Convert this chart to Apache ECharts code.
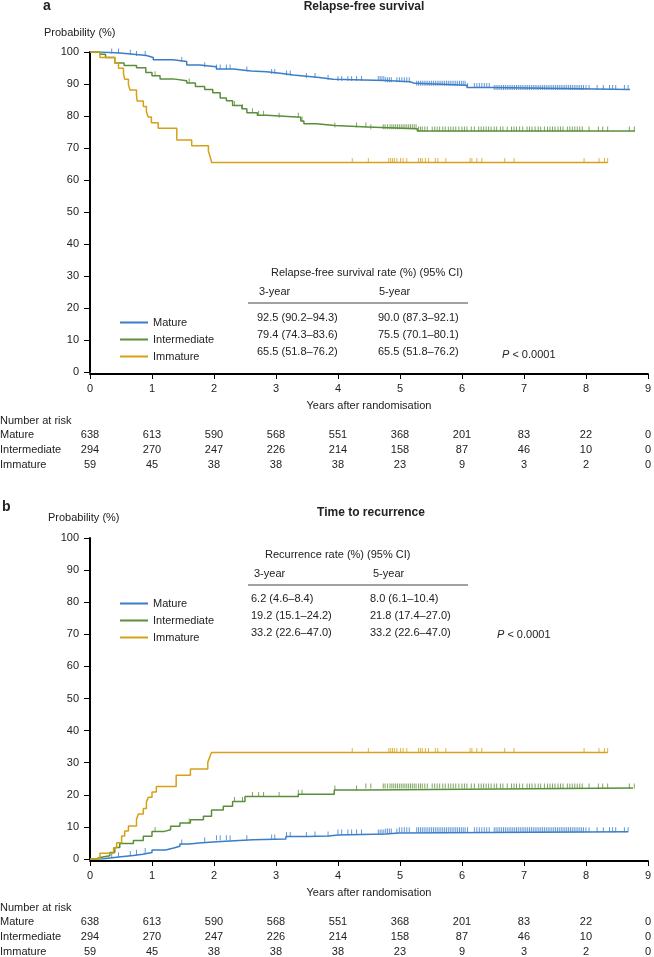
<!DOCTYPE html>
<html>
<head>
<meta charset="utf-8">
<title>Relapse-free survival / Time to recurrence</title>
<script src="https://cdn.jsdelivr.net/npm/echarts@6/dist/echarts.min.js"></script>
<style>
  html, body { margin: 0; padding: 0; background: #fff; }
  #chart { width: 654px; height: 957px; }
</style>
</head>
<body>
<div id="chart"></div>
<script>
var FONT = '"Liberation Sans", Arial, sans-serif'
var groups = ['Mature', 'Intermediate', 'Immature']
var colors = ['#3b7dc8', '#5a8e3a', '#d6a118']

// number at risk, one value per year tick 0..9
var riskMature = [638, 613, 590, 568, 551, 368, 201, 83, 22, 0]
var riskIntermediate = [294, 270, 247, 226, 214, 158, 87, 46, 10, 0]
var riskImmature = [59, 45, 38, 38, 38, 23, 9, 3, 2, 0]

// rate tables
var rfsRate3y = ['92.5 (90.2–94.3)', '79.4 (74.3–83.6)', '65.5 (51.8–76.2)']
var rfsRate5y = ['90.0 (87.3–92.1)', '75.5 (70.1–80.1)', '65.5 (51.8–76.2)']
var ttrRate3y = ['6.2 (4.6–8.4)', '19.2 (15.1–24.2)', '33.2 (22.6–47.0)']
var ttrRate5y = ['8.0 (6.1–10.4)', '21.8 (17.4–27.0)', '33.2 (22.6–47.0)']

// a: relapse-free survival (years, %)
var rfsMatureT = [0, 0.16, 0.48, 0.70, 0.91, 1.02, 1.34, 1.56, 1.77, 2.04, 2.31, 2.60, 2.85, 3.10, 3.28, 3.49, 3.70, 3.92, 4.76, 5.16, 5.24, 6.08, 6.48, 8.71]
var rfsMatureV = [100, 99.7, 99.3, 98.9, 98.3, 97.6, 97.0, 95.9, 95.4, 94.7, 94.1, 93.8, 93.3, 92.8, 92.4, 92.0, 91.5, 91.1, 90.7, 90.2, 89.6, 88.9, 88.3, 88.3]
var rfsInterT = [0, 0.16, 0.25, 0.40, 0.55, 0.75, 0.90, 1.00, 1.13, 1.34, 1.56, 1.70, 1.85, 1.98, 2.10, 2.20, 2.30, 2.45, 2.53, 2.70, 2.85, 3.40, 3.45, 3.65, 3.95, 4.47, 5.28, 8.79]
var rfsInterV = [100, 99.3, 98.3, 96.6, 95.8, 95.1, 93.6, 92.6, 91.6, 91.0, 90.3, 89.2, 88.3, 87.3, 85.6, 84.8, 83.3, 82.3, 81.0, 80.2, 79.6, 78.4, 77.6, 77.0, 76.6, 76.0, 75.3, 75.3]
var rfsImmT = [0, 0.16, 0.40, 0.46, 0.54, 0.56, 0.62, 0.645, 0.75, 0.76, 0.86, 0.91, 0.94, 0.99, 1.10, 1.40, 1.64, 1.91, 1.94, 1.96, 8.35]
var rfsImmV = [100, 98.3, 96.6, 94.9, 93.2, 91.5, 89.8, 88.1, 86.4, 84.7, 83.0, 81.3, 79.7, 77.9, 76.2, 72.5, 70.7, 69.0, 67.2, 65.5, 65.5]

// b: time to recurrence, cumulative (years, %)
var ttrMatureT = [0, 0.20, 0.32, 0.50, 0.70, 0.85, 1.00, 1.22, 1.35, 1.45, 1.60, 1.76, 2.04, 2.63, 3.16, 3.50, 3.85, 4.00, 4.77, 4.98, 8.68]
var ttrMatureV = [0, 0.3, 0.7, 1.1, 1.5, 2.0, 2.8, 3.4, 4.0, 4.7, 5.0, 5.4, 6.0, 6.2, 7.0, 7.2, 7.5, 7.8, 8.1, 8.5, 8.5]
var ttrInterT = [0, 0.10, 0.16, 0.32, 0.40, 0.48, 0.70, 0.86, 1.00, 1.20, 1.30, 1.45, 1.62, 1.83, 1.96, 2.15, 2.30, 2.50, 3.36, 3.94, 4.45, 8.76]
var ttrInterV = [0, 0.5, 1.0, 2.0, 3.6, 4.8, 5.8, 7.1, 8.6, 9.1, 10.2, 11.2, 12.2, 13.3, 15.3, 16.4, 17.9, 19.5, 20.2, 21.5, 22.1, 22.1]
var ttrImmT = [0, 0.16, 0.38, 0.43, 0.51, 0.56, 0.62, 0.75, 0.78, 0.86, 0.91, 0.94, 1.00, 1.07, 1.39, 1.62, 1.90, 1.93, 1.96, 8.35]
var ttrImmV = [0, 1.8, 3.5, 5.1, 7.2, 8.75, 10.3, 12.4, 14.0, 15.7, 17.8, 19.2, 20.9, 22.6, 26.1, 28.0, 30.1, 31.7, 33.2, 33.2]

// censoring times (years)
var censorMature = [0.35, 0.46, 0.65, 0.75, 0.89, 1.48, 1.85, 2.04, 2.10, 2.20, 2.26, 2.53, 2.93, 2.98, 3.17, 3.23, 3.49, 3.63, 3.84, 4.00, 4.06, 4.16, 4.22, 4.30, 4.38,
  4.65, 4.68, 4.71, 4.74, 4.77, 4.80, 4.83, 4.86, 4.95, 4.99, 5.03, 5.07, 5.11, 5.15, 5.27, 5.30, 5.33, 5.36, 5.39, 5.42, 5.45, 5.48, 5.51, 5.54, 5.57, 5.60,
  5.63, 5.66, 5.69, 5.72, 5.75, 5.78, 5.81, 5.84, 5.87, 5.90, 5.93, 5.96, 5.99, 6.02, 6.05, 6.09, 6.20, 6.24, 6.28, 6.32, 6.36, 6.40, 6.44, 6.52, 6.55, 6.58,
  6.61, 6.64, 6.67, 6.70, 6.73, 6.76, 6.79, 6.82, 6.85, 6.88, 6.91, 6.94, 6.97, 7.00, 7.03, 7.06, 7.09, 7.12, 7.15, 7.18, 7.21, 7.24, 7.27, 7.30, 7.33, 7.36,
  7.39, 7.42, 7.45, 7.48, 7.51, 7.54, 7.57, 7.60, 7.63, 7.66, 7.69, 7.72, 7.75, 7.78, 7.81, 7.84, 7.87, 7.90, 7.93, 7.96, 8.00, 8.05, 8.18, 8.28, 8.38, 8.43,
  8.48, 8.62, 8.68]
var censorIntermediate = [1.05, 1.60, 2.33, 2.46, 2.62, 2.72, 2.80, 3.05, 3.36, 3.42, 3.95, 4.30, 4.45, 4.53, 4.73, 4.76, 4.80, 4.84, 4.87, 4.90, 4.93, 4.96,
  4.99, 5.02, 5.05, 5.08, 5.11, 5.14, 5.17, 5.20, 5.23, 5.26, 5.30, 5.33, 5.36, 5.40, 5.44, 5.52, 5.56, 5.60, 5.64, 5.69, 5.73, 5.78, 5.82, 5.86, 5.90, 5.95,
  6.00, 6.04, 6.08, 6.15, 6.20, 6.27, 6.31, 6.35, 6.39, 6.43, 6.47, 6.52, 6.56, 6.62, 6.66, 6.73, 6.80, 6.84, 6.88, 6.93, 6.98, 7.05, 7.09, 7.13, 7.18, 7.23,
  7.27, 7.33, 7.38, 7.42, 7.46, 7.50, 7.55, 7.59, 7.63, 7.70, 7.74, 7.78, 7.82, 7.86, 7.90, 7.94, 8.05, 8.20, 8.27, 8.35, 8.70, 8.78]
var censorImmature = [4.23, 4.49, 4.82, 4.85, 4.88, 4.91, 4.95, 5.01, 5.05, 5.11, 5.30, 5.33, 5.36, 5.41, 5.46, 5.57, 5.61, 5.74, 6.13, 6.16, 6.24, 6.32,
  6.69, 6.84, 7.97, 8.21, 8.30, 8.35]

var chart = echarts.init(document.getElementById('chart'))

// value of a step curve at time t
function stepAt (ts, vs, t) {
  var v = vs[0]
  for (var i = 0; i < ts.length; i++) {
    if (ts[i] <= t) v = vs[i]
  }
  return v
}

function curve (name, ts, vs, color, gi) {
  return {
    name: name,
    type: 'line',
    step: 'end',
    xAxisIndex: gi,
    yAxisIndex: gi,
    symbol: 'none',
    data: ts.map(function (t, i) { return [t, vs[i]] }),
    lineStyle: { color: color, width: 1.5 },
    itemStyle: { color: color },
    silent: true
  }
}

function censor (name, ts, vs, cs, color, gi) {
  return {
    name: name + ' censored',
    type: 'scatter',
    xAxisIndex: gi,
    yAxisIndex: gi,
    symbol: 'rect',
    symbolSize: [1, 5],
    symbolOffset: [0, -2],
    data: cs.map(function (c) { return [c, stepAt(ts, vs, c)] }),
    itemStyle: { color: color },
    silent: true
  }
}

function xAx (gi) {
  return {
    type: 'value',
    gridIndex: gi,
    min: 0,
    max: 9,
    interval: 1,
    offset: 2,
    name: 'Years after randomisation',
    nameLocation: 'middle',
    nameGap: 26,
    nameTextStyle: { fontSize: 11, color: '#222', fontFamily: FONT },
    axisLine: { onZero: false, lineStyle: { color: '#000', width: 2 } },
    axisTick: { length: 5, lineStyle: { color: '#000', width: 1 } },
    axisLabel: { fontSize: 11, color: '#222', margin: 9, fontFamily: FONT },
    splitLine: { show: false }
  }
}

function yAx (gi) {
  return {
    type: 'value',
    gridIndex: gi,
    min: 0,
    max: 100,
    interval: 10,
    offset: 2,
    axisLine: { show: true, lineStyle: { color: '#000', width: 2 } },
    axisTick: { show: true, length: 6, lineStyle: { color: '#000', width: 1 } },
    axisLabel: { fontSize: 11, color: '#222', margin: 9, fontFamily: FONT },
    splitLine: { show: false }
  }
}

function legend (top) {
  return {
    data: groups,
    orient: 'vertical',
    left: 115,
    top: top,
    icon: 'rect',
    itemWidth: 28,
    itemHeight: 2,
    itemGap: 4,
    selectedMode: false,
    textStyle: { fontSize: 11, color: '#222', fontFamily: FONT, lineHeight: 13 }
  }
}

function txt (text, x, y, opts) {
  opts = opts || {}
  return {
    type: 'text',
    x: x,
    y: y,
    silent: true,
    style: {
      text: text,
      fill: '#222',
      font: (opts.weight || 'normal') + ' ' + (opts.size || 11) + 'px ' + FONT,
      textAlign: opts.align || 'left',
      align: opts.align || 'left',
      textVerticalAlign: 'middle',
      verticalAlign: 'middle',
      rich: opts.rich
    }
  }
}

var series = [
  curve('Mature', rfsMatureT, rfsMatureV, colors[0], 0),
  curve('Intermediate', rfsInterT, rfsInterV, colors[1], 0),
  curve('Immature', rfsImmT, rfsImmV, colors[2], 0),
  censor('Mature', rfsMatureT, rfsMatureV, censorMature, colors[0], 0),
  censor('Intermediate', rfsInterT, rfsInterV, censorIntermediate, colors[1], 0),
  censor('Immature', rfsImmT, rfsImmV, censorImmature, colors[2], 0),
  curve('Mature', ttrMatureT, ttrMatureV, colors[0], 1),
  curve('Intermediate', ttrInterT, ttrInterV, colors[1], 1),
  curve('Immature', ttrImmT, ttrImmV, colors[2], 1),
  censor('Mature', ttrMatureT, ttrMatureV, censorMature, colors[0], 1),
  censor('Intermediate', ttrInterT, ttrInterV, censorIntermediate, colors[1], 1),
  censor('Immature', ttrImmT, ttrImmV, censorImmature, colors[2], 1)
]

chart.setOption({
  animation: false,
  textStyle: { fontFamily: FONT },
  grid: [
    { left: 90, right: 6, top: 52, height: 320 },
    { left: 90, right: 6, top: 538, height: 321 }
  ],
  xAxis: [xAx(0), xAx(1)],
  yAxis: [yAx(0), yAx(1)],
  legend: [legend(311), legend(592)],
  series: series
})

// texts: titles, rate tables, number at risk
var g = []
g.push(txt('a', 43, 6, { weight: 'bold', size: 14 }))
g.push(txt('Relapse-free survival', 364, 7, { weight: 'bold', size: 12, align: 'center' }))
g.push(txt('Probability (%)', 44, 33))
g.push(txt('Relapse-free survival rate (%) (95% CI)', 271, 273))
g.push(txt('3-year', 259, 292))
g.push(txt('5-year', 379, 292))
g.push({ type: 'line', silent: true, shape: { x1: 248, y1: 303, x2: 468, y2: 303 }, style: { stroke: '#444', lineWidth: 1 } })
for (var i = 0; i < 3; i++) {
  g.push(txt(rfsRate3y[i], 257, 318 + i * 17))
  g.push(txt(rfsRate5y[i], 378, 318 + i * 17))
}
g.push(txt('{i|P} < 0.0001', 502, 355, { rich: { i: { fontStyle: 'italic', fontSize: 11, fontFamily: FONT } } }))

g.push(txt('b', 2, 507, { weight: 'bold', size: 14 }))
g.push(txt('Time to recurrence', 371, 513, { weight: 'bold', size: 12, align: 'center' }))
g.push(txt('Probability (%)', 48, 518))
g.push(txt('Recurrence rate (%) (95% CI)', 265, 555))
g.push(txt('3-year', 254, 574))
g.push(txt('5-year', 373, 574))
g.push({ type: 'line', silent: true, shape: { x1: 248, y1: 585, x2: 468, y2: 585 }, style: { stroke: '#444', lineWidth: 1 } })
for (var j = 0; j < 3; j++) {
  g.push(txt(ttrRate3y[j], 251, 599 + j * 17))
  g.push(txt(ttrRate5y[j], 370, 599 + j * 17))
}
g.push(txt('{i|P} < 0.0001', 497, 635, { rich: { i: { fontStyle: 'italic', fontSize: 11, fontFamily: FONT } } }))

// number at risk under each panel, aligned to the year ticks
var riskRows = [riskMature, riskIntermediate, riskImmature]
var axisLineY = [374, 861]
for (var p = 0; p < 2; p++) {
  var base = axisLineY[p]
  g.push(txt('Number at risk', 0, base + 47))
  for (var r = 0; r < 3; r++) {
    var ry = base + 61 + r * 15
    g.push(txt(groups[r], 0, ry))
    for (var k = 0; k < riskRows[r].length; k++) {
      var px = chart.convertToPixel({ xAxisIndex: p }, k)
      g.push(txt(String(riskRows[r][k]), px, ry, { align: 'center' }))
    }
  }
}

chart.setOption({ graphic: { elements: g } })
</script>
</body>
</html>
